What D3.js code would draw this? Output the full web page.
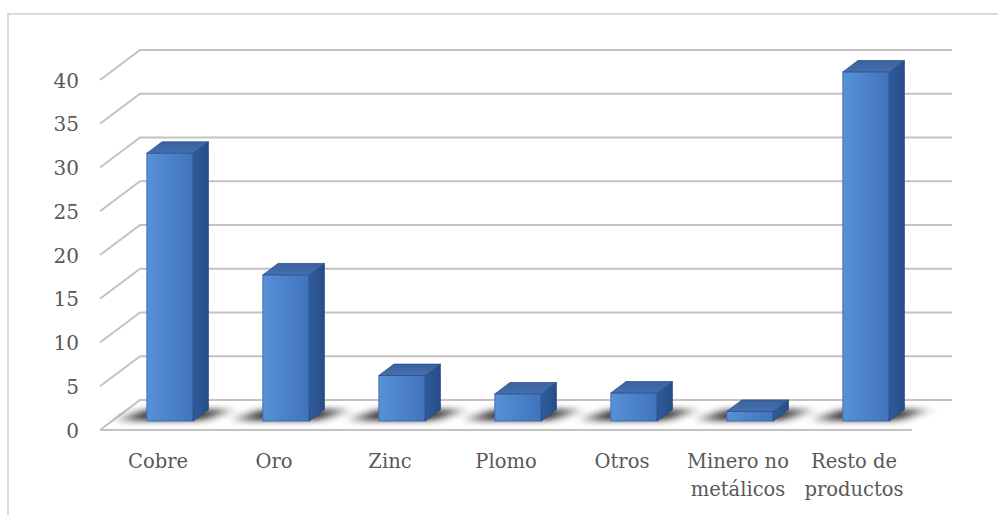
<!DOCTYPE html>
<html>
<head>
<meta charset="utf-8">
<script src="https://cdn.jsdelivr.net/npm/d3@7"></script>
<style>
  html, body { margin: 0; padding: 0; background: #fff; }
  svg { display: block; }
  text { font-family: "DejaVu Serif", serif; fill: #595959; }
</style>
</head>
<body>
<div id="chart"></div>
<script>
// Chart data
const categories = ['Cobre', 'Oro', 'Zinc', 'Plomo', 'Otros', 'Minero no metálicos', 'Resto de productos'];
const categoryLines = [['Cobre'], ['Oro'], ['Zinc'], ['Plomo'], ['Otros'], ['Minero no', 'metálicos'], ['Resto de', 'productos']];
const values = [30.6, 16.7, 5.2, 3.1, 3.2, 1.1, 39.9];
const yTicks = [0, 5, 10, 15, 20, 25, 30, 35, 40];

const width = 998, height = 515;

// oblique 3D: depth offset of the back wall
const DX = 40, DY = 30;
const barZ0 = 0.3, barZ1 = 0.68;

const svg = d3.select('#chart').append('svg')
    .attr('width', width)
    .attr('height', height);

const defs = svg.append('defs');

const blur = defs.append('filter').attr('id', 'shadowBlur')
    .attr('x', '-50%').attr('y', '-100%').attr('width', '200%').attr('height', '300%');
blur.append('feGaussianBlur').attr('stdDeviation', '8 3');

const frontGrad = defs.append('linearGradient').attr('id', 'frontGrad')
    .attr('x1', '0').attr('x2', '1').attr('y1', '0').attr('y2', '0');
frontGrad.append('stop').attr('offset', '0%').attr('stop-color', '#5890d6');
frontGrad.append('stop').attr('offset', '45%').attr('stop-color', '#4d83cc');
frontGrad.append('stop').attr('offset', '100%').attr('stop-color', '#3f74bd');

const sideGrad = defs.append('linearGradient').attr('id', 'sideGrad')
    .attr('x1', '0').attr('x2', '1').attr('y1', '0').attr('y2', '0');
sideGrad.append('stop').attr('offset', '0%').attr('stop-color', '#2f5c9c');
sideGrad.append('stop').attr('offset', '100%').attr('stop-color', '#264d89');

const topGrad = defs.append('linearGradient').attr('id', 'topGrad')
    .attr('x1', '0').attr('x2', '0').attr('y1', '1').attr('y2', '0');
topGrad.append('stop').attr('offset', '0%').attr('stop-color', '#476fae');
topGrad.append('stop').attr('offset', '100%').attr('stop-color', '#3a62a0');

// outer border of the chart area
svg.append('path')
    .attr('d', 'M8,515 L8,14 L998,14')
    .attr('fill', 'none')
    .attr('stroke', '#d9d9d9')
    .attr('stroke-width', 2);

const x = d3.scaleBand()
    .domain(categories)
    .range([100, 912])
    .paddingInner(0.6)
    .paddingOuter(0.3);

const y = d3.scaleLinear()
    .domain([0, 40])
    .range([430, 80]);

const xLeft = x.range()[0], xRight = x.range()[1];

function proj(px, v, z) {
    return [px + z * DX, y(v) - z * DY];
}

const line = d3.line();

// gridlines: back wall + left side wall
const grid = svg.append('g');
yTicks.forEach(v => {
    grid.append('path')
        .attr('d', line([proj(xLeft, v, 0), proj(xLeft, v, 1), proj(xRight, v, 1)]))
        .attr('fill', 'none')
        .attr('stroke', '#c2c2c2')
        .attr('stroke-width', 2);
});
// floor front edge
grid.append('path')
    .attr('d', line([proj(xLeft, 0, 0), proj(xRight, 0, 0)]))
    .attr('fill', 'none')
    .attr('stroke', '#c2c2c2')
    .attr('stroke-width', 2);

// y tick labels
svg.append('g').selectAll('text')
    .data(yTicks)
    .join('text')
    .attr('x', 79)
    .attr('y', d => y(d) + 2)
    .attr('text-anchor', 'end')
    .attr('dominant-baseline', 'middle')
    .attr('font-size', 20)
    .text(d => d);

// category labels
const catG = svg.append('g');
categories.forEach((c, i) => {
    const cx = x(c) + x.bandwidth() / 2;
    const t = catG.append('text')
        .attr('x', cx)
        .attr('y', 468)
        .attr('text-anchor', 'middle')
        .attr('font-size', 19.5);
    categoryLines[i].forEach((s, k) => {
        t.append('tspan').attr('x', cx).attr('dy', k === 0 ? 0 : 28).text(s);
    });
});

// bars
const bars = svg.append('g');
const data = categories.map((c, i) => ({ c, v: values[i] }));

// floor shadows first
data.forEach(d => {
    const x0 = x(d.c), x1 = x0 + x.bandwidth();
    const p = [
        proj(x0 - 28, 0, barZ0 + 0.02),
        proj(x1 + 8, 0, barZ0 + 0.02),
        proj(x1 + 22, 0, barZ1),
        proj(x0 - 16, 0, barZ1)
    ];
    bars.append('path')
        .attr('d', line(p) + 'Z')
        .attr('fill', '#000')
        .attr('opacity', 0.8)
        .attr('filter', 'url(#shadowBlur)');
});

data.forEach(d => {
    const x0 = x(d.c), x1 = x0 + x.bandwidth();
    const front = [proj(x0, 0, barZ0), proj(x1, 0, barZ0), proj(x1, d.v, barZ0), proj(x0, d.v, barZ0)];
    const side = [proj(x1, 0, barZ0), proj(x1, 0, barZ1), proj(x1, d.v, barZ1), proj(x1, d.v, barZ0)];
    const top = [proj(x0, d.v, barZ0), proj(x1, d.v, barZ0), proj(x1, d.v, barZ1), proj(x0, d.v, barZ1)];

    bars.append('path')
        .attr('d', line(front) + 'Z')
        .attr('fill', 'url(#frontGrad)')
        .attr('stroke', '#3866a8')
        .attr('stroke-width', 0.8);
    bars.append('path')
        .attr('d', line(side) + 'Z')
        .attr('fill', 'url(#sideGrad)')
        .attr('stroke', '#26497f')
        .attr('stroke-width', 0.8);
    bars.append('path')
        .attr('d', line(top) + 'Z')
        .attr('fill', 'url(#topGrad)')
        .attr('stroke', '#2c5188')
        .attr('stroke-width', 0.8);
});
</script>
</body>
</html>
